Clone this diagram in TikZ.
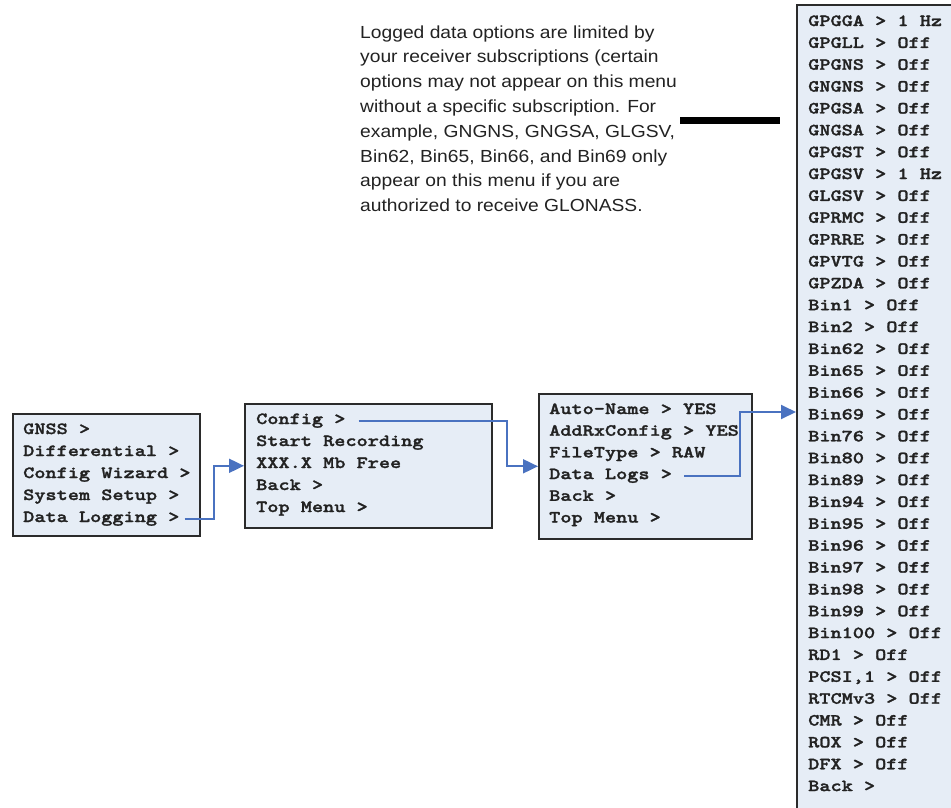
\documentclass[tikz,border=0pt]{standalone}
\usepackage{fontspec}
\setmainfont{Liberation Sans}
\newfontfamily\menufont[FakeStretch=1.25,FakeBold=1.6]{lmmonolt10-bold.otf}
\newfontfamily\notefont[FakeStretch=1.1]{Liberation Sans}
\usetikzlibrary{arrows.meta}
\definecolor{boxfill}{HTML}{E6EDF6}
\definecolor{boxborder}{HTML}{2B2B2B}
\definecolor{linkblue}{HTML}{4A72C0}
\definecolor{menutext}{HTML}{222222}
\begin{document}
\begin{tikzpicture}[x=1pt,y=-1pt,
  menubox/.style={draw=boxborder, line width=1.6pt, fill=boxfill, inner sep=0pt, anchor=north west},
  menuitem/.style={anchor=base west, inner sep=0pt, text=menutext, font=\menufont\fontsize{17}{21.9}\selectfont},
  noteline/.style={anchor=base west, inner sep=0pt, text=menutext, font=\notefont\fontsize{17.5}{24.8}\selectfont},
  link/.style={draw=linkblue, line width=1.9pt, -{Triangle[length=15pt,width=14pt]}},
  leader/.style={draw=black, line width=7pt}]
\useasboundingbox (0,0) rectangle (951,807);

% boxes
\node[menubox, minimum width=187pt, minimum height=122pt] (box1) at (12,413) {};
\node[menubox, minimum width=247pt, minimum height=124pt] (box2) at (244,403) {};
\node[menubox, minimum width=213pt, minimum height=145pt] (box3) at (538,393) {};
\node[menubox, minimum width=180pt, minimum height=830pt] (rb) at (796,4) {};

% box 1
\foreach \t [count=\i] in {GNSS >, Differential >, Config Wizard >, System Setup >, Data Logging >}
  \node[menuitem] (b1l\i) at (23,{434+22*(\i-1)}) {\t};
% box 2
\foreach \t [count=\i] in {Config >, Start Recording, XXX.X Mb Free, Back >, Top Menu >}
  \node[menuitem] (b2l\i) at (256,{424+22*(\i-1)}) {\t};
% box 3
\foreach \t [count=\i] in {Auto-Name > YES, AddRxConfig > YES, FileType > RAW, Data Logs >, Back >, Top Menu >}
  \node[menuitem] (b3l\i) at (549,{414+21.7*(\i-1)}) {\t};
% right box
\foreach \t [count=\i from 0] in {GPGGA > 1 Hz, GPGLL > Off, GPGNS > Off, GNGNS > Off, GPGSA > Off, GNGSA > Off, GPGST > Off, GPGSV > 1 Hz, GLGSV > Off, GPRMC > Off, GPRRE > Off, GPVTG > Off, GPZDA > Off, Bin1 > Off, Bin2 > Off, Bin62 > Off, Bin65 > Off, Bin66 > Off, Bin69 > Off, Bin76 > Off, Bin80 > Off, Bin89 > Off, Bin94 > Off, Bin95 > Off, Bin96 > Off, Bin97 > Off, Bin98 > Off, Bin99 > Off, Bin100 > Off, RD1 > Off, {PCSI,1 > Off}, RTCMv3 > Off, CMR > Off, ROX > Off, DFX > Off, Back >}
  \node[menuitem] (r\i) at (808,{26+21.86*\i}) {\t};

% note
\node[noteline] (n1) at (360,38) {Logged data options are limited by};
\node[noteline] (n2) at (360,62.8) {your receiver subscriptions (certain};
\node[noteline] (n3) at (360,87.6) {options may not appear on this menu};
\node[noteline] (n4) at (360,112.4) {without a specific subscription. For};
\node[noteline] (n5) at (360,137.2) {example, GNGNS, GNGSA, GLGSV,};
\node[noteline] (n6) at (360,162) {Bin62, Bin65, Bin66, and Bin69 only};
\node[noteline] (n7) at (360,186.8) {appear on this menu if you are};
\node[noteline] (n8) at (360,211.6) {authorized to receive GLONASS.};

\coordinate (leadA) at (680,120);
\coordinate (leadB) at (780,120);
\draw[leader] (leadA) -- (leadB);

% connectors
\coordinate (rbin) at (796,412);
\draw[link] ([xshift=5pt]b1l5.east) -| ([xshift=-30pt]box2.west) -- (box2.west);
\draw[link] ([xshift=13pt]b2l1.east) -| ([xshift=-31pt]box3.west) -- (box3.west);
\draw[link] ([xshift=12pt]b3l4.east) -| ([xshift=-56pt]rbin) -- (rbin);
\end{tikzpicture}
\end{document}
